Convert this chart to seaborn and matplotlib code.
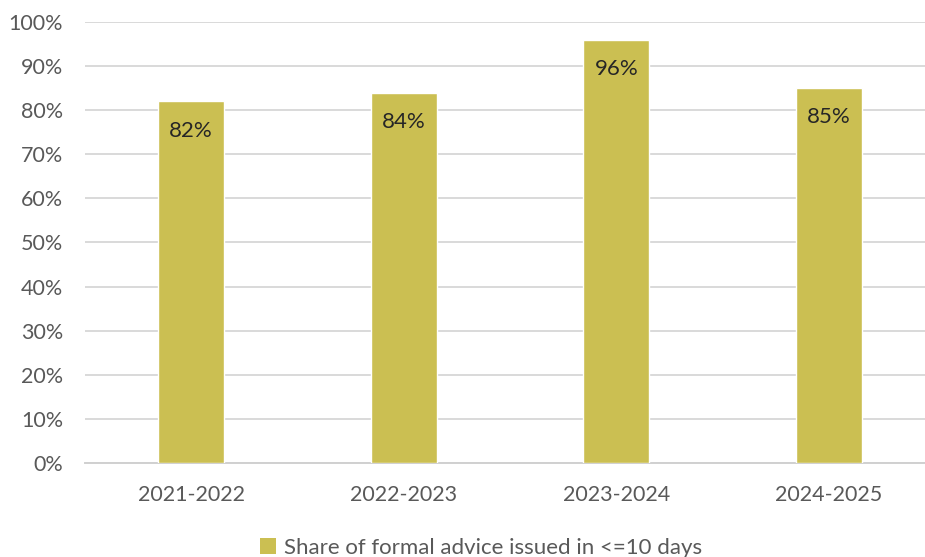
import matplotlib
matplotlib.use("Agg")
import matplotlib.pyplot as plt
import seaborn as sns
import pandas as pd
from matplotlib.patches import Patch

periods = ["2021-2022", "2022-2023", "2023-2024", "2024-2025"]
share = [82, 84, 96, 85]
series_name = "Share of formal advice issued in <=10 days"
y_ticks = [0, 10, 20, 30, 40, 50, 60, 70, 80, 90, 100]

sns.set_style("white")
plt.rcParams["font.family"] = ["Lato", "DejaVu Sans"]

bar_color = "#CBBF52"
df = pd.DataFrame({"period": periods, "share": share})

fig = plt.figure(figsize=(9.25, 5.57), dpi=100)
ax = fig.add_axes([0.0916, 0.1688, 0.9197, 0.7917])

sns.barplot(data=df, x="period", y="share", color=bar_color, width=0.31,
            saturation=1, ax=ax, zorder=3)

ax.set_ylim(0, 100)
ax.set_xlim(-0.5, 3.5)
ax.set_yticks(y_ticks)
ax.set_yticklabels([f"{t}%" for t in y_ticks])
ax.yaxis.grid(True, color="#D9D9D9", linewidth=1.4, zorder=0)
ax.set_axisbelow(True)
for s in ["top", "right", "left"]:
    ax.spines[s].set_visible(False)
ax.spines["bottom"].set_color("#D0D0D0")
ax.spines["bottom"].set_linewidth(1.4)
ax.tick_params(axis="both", length=0, labelsize=15.5, colors="#595959")
ax.tick_params(axis="x", pad=16)
ax.tick_params(axis="y", pad=15.5)
ax.set_xlabel("")
ax.set_ylabel("")

for i, v in enumerate(share):
    ax.annotate(f"{v}%", (i, v), xytext=(0, -21), textcoords="offset points",
                ha="center", va="center", fontsize=16, color="#262626")

handle = Patch(facecolor=bar_color, edgecolor="none")
fig.legend([handle], [series_name], loc="center", bbox_to_anchor=(0.52, 0.016),
           frameon=False, fontsize=16, handlelength=0.75, handleheight=0.75,
           handletextpad=0.35, labelcolor="#595959")

fig.savefig("out.png", dpi=100)
